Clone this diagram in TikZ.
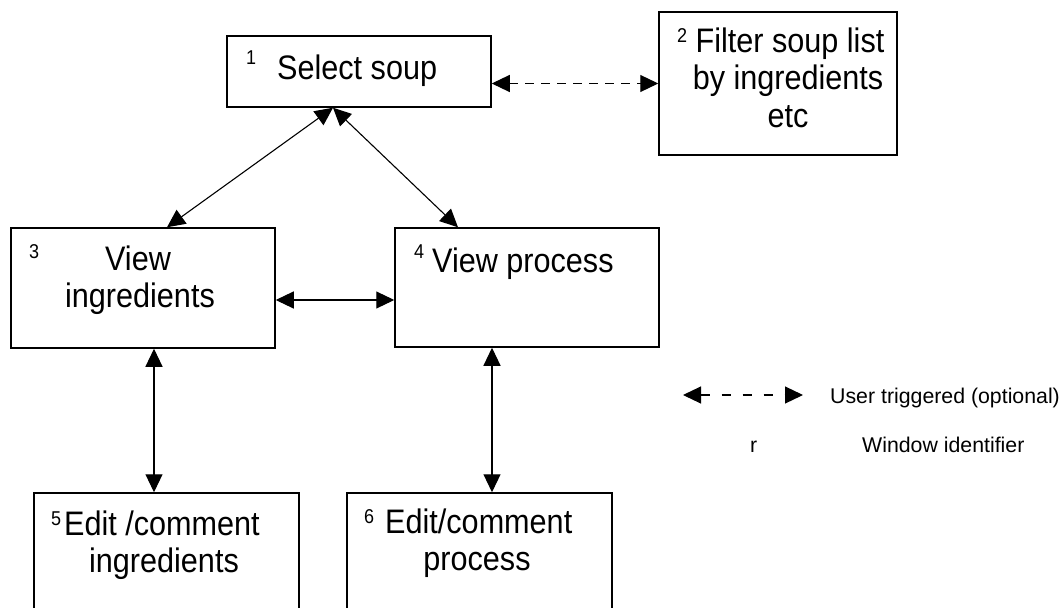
\documentclass[tikz,border=0pt]{standalone}
\usepackage{fontspec}
\setmainfont{Liberation Sans}[FakeStretch=0.9]
\newfontfamily\legendfont{Liberation Sans}
\usetikzlibrary{arrows.meta}

\begin{document}
\begin{tikzpicture}[x=1pt,y=-1pt,
  box/.style={draw, line width=1.5pt, inner sep=0pt},
  lbl/.style={inner sep=0pt, anchor=base west, font=\fontsize{34}{40}\selectfont},
  lblc/.style={inner sep=0pt, anchor=base, font=\fontsize{34}{40}\selectfont},
  num/.style={inner sep=0pt, anchor=base west, font=\fontsize{20}{22}\selectfont},
  link/.style={line width=1.1pt, {Triangle[length=18pt,width=17pt]}-{Triangle[length=18pt,width=17pt]}},
  optlink/.style={link, dash pattern=on 9pt off 7pt},
  legend/.style={inner sep=0pt, anchor=base west, font=\legendfont\fontsize{21.3}{24}\selectfont}]

\path[use as bounding box] (0,0) rectangle (1064,607);
\clip (0,0) rectangle (1064,607);

% windows
\node[box, minimum width=264pt, minimum height=71pt]  (b1) at (359,71.5) {};
\node[box, minimum width=238pt, minimum height=143pt] (b2) at (778,83.5) {};
\node[box, minimum width=264pt, minimum height=120pt] (b3) at (143,288) {};
\node[box, minimum width=264pt, minimum height=119pt] (b4) at (527,287.5) {};
\node[box, minimum width=265pt, minimum height=147pt] (b5) at (166.5,566.5) {};
\node[box, minimum width=265pt, minimum height=147pt] (b6) at (479.5,566.5) {};

% window texts
\node[num] (n1) at (246,65) {1};
\node[lbl] (t1) at (277,80) {Select soup};

\node[num] (n2) at (677,43) {2};
\node[lblc] (t2a) at (790,53) {Filter soup list};
\node[lblc] (t2b) at (788,90) {by ingredients};
\node[lblc] (t2c) at (788,127) {etc};

\node[num] (n3) at (29,258) {3};
\node[lblc] (t3a) at (138,270) {View};
\node[lblc] (t3b) at (140,307) {ingredients};

\node[num] (n4) at (414,258) {4};
\node[lbl] (t4) at (432,272) {View process};

\node[num] (n5) at (51,525) {5};
\node[lbl] (t5a) at (64,535) {Edit /comment};
\node[lblc] (t5b) at (164,572) {ingredients};

\node[num] (n6) at (364,523) {6};
\node[lbl] (t6a) at (385,533) {Edit/comment};
\node[lblc] (t6b) at (477,570) {process};

% navigation between windows
\draw[optlink] (b2.west -| b1.east) -- (b2.west);
\draw[link] ([xshift=-26pt]b1.south) -- ([xshift=24pt]b3.north);
\draw[link] ([xshift=-26pt]b1.south) -- ([xshift=-69pt]b4.north);
\draw[link] ([yshift=-12pt]b3.east) -- ([yshift=-12pt]b3.east -| b4.west);
\draw[link] ([xshift=11pt]b3.south) -- ([xshift=11pt]b3.south |- b5.north);
\draw[link] ([xshift=-35pt]b4.south) -- ([xshift=-35pt]b4.south |- b6.north);

% legend
\coordinate (la) at (683,395);
\coordinate (lb) at (803,395);
\draw[link, dash pattern=on 9pt off 12pt] (la) -- (lb);
\node[legend] (l1) at (830,403) {User triggered (optional)};
\node[legend] (lr) at (750,452) {r};
\node[legend] (l2) at (862,452) {Window identifier};
\end{tikzpicture}
\end{document}
